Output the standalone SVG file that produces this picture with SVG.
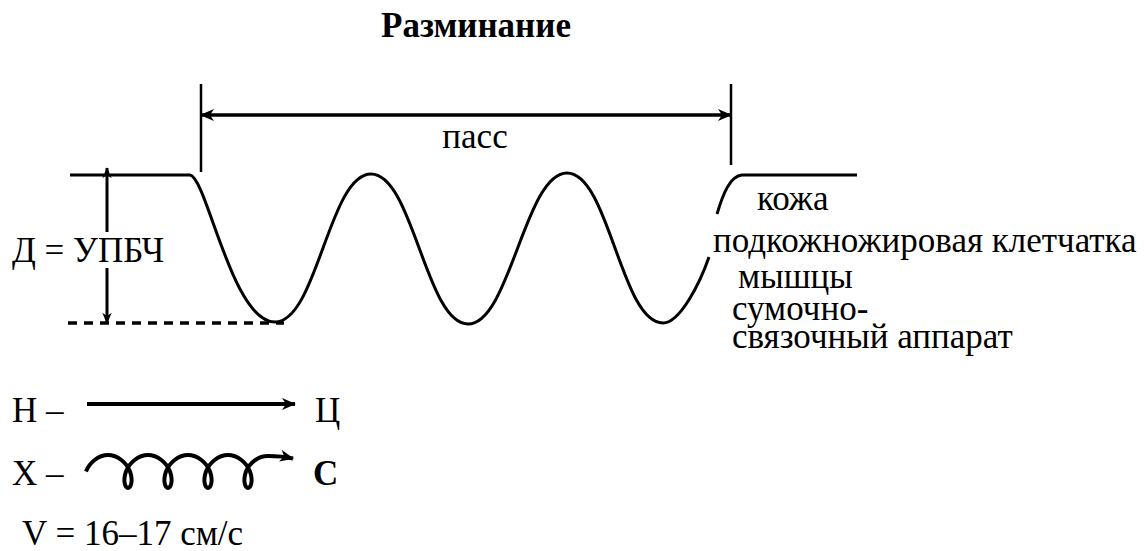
<svg xmlns="http://www.w3.org/2000/svg" width="1144" height="551" viewBox="0 0 1144 551">
  <style>
    .t { font-family: "Liberation Serif", "DejaVu Serif", serif; font-size: 35px; fill: #000; }
    .b { font-weight: bold; }
    .ln { fill: none; stroke: #000; stroke-linecap: butt; }
  </style>
  <defs>
    <marker id="ah" viewBox="0 0 14 12" refX="13" refY="6" markerWidth="14" markerHeight="12" markerUnits="userSpaceOnUse" orient="auto-start-reverse">
      <path d="M0,0 L14,6 L0,12 L4,6 Z" fill="#000"/>
    </marker>
    <marker id="ahs" viewBox="0 0 14 12" refX="13" refY="6" markerWidth="11" markerHeight="10" markerUnits="userSpaceOnUse" orient="auto-start-reverse">
      <path d="M0,0 L14,6 L0,12 L4,6 Z" fill="#000"/>
    </marker>
  </defs>
  <rect width="1144" height="551" fill="#fff"/>

  <g id="title">
    <text class="t b" x="476" y="37" text-anchor="middle">Разминание</text>
  </g>

  <g id="pass">
    <line class="ln" x1="201" y1="84" x2="201" y2="172" stroke-width="2.5"/>
    <line class="ln" x1="731" y1="84" x2="731" y2="165" stroke-width="2.5"/>
    <text class="t" x="475" y="148" text-anchor="middle">пасс</text>
  </g>

  <g id="tissue">
    <path class="ln" stroke-width="3" d="M70,175 L190,175 C207,178 232,322 275,322 C317,322 329,174 371,174 C413,174 426,324 468,324 C510,324 525,173 567,173 C609,173 621,323 663,323 C680,323 700,283 709,257"/>
    <path class="ln" stroke-width="3" d="M717,214 C723,194 730,176 742,175 L857,175"/>
    <path class="ln" stroke-width="3.5" stroke-dasharray="9,7" d="M68,323 L284,323"/>
  </g>

  <g id="depth">
    <text class="t" x="12" y="262">Д = УПБЧ</text>
  </g>

  <g id="layers">
    <text class="t" x="757" y="210">кожа</text>
    <text class="t" x="713" y="252">подкожножировая клетчатка</text>
    <text class="t" x="738" y="288">мышцы</text>
    <text class="t" x="732" y="320">сумочно-</text>
    <text class="t" x="732" y="348">связочный аппарат</text>
  </g>

  <g id="direction">
    <text class="t" x="12" y="422">Н –</text>
    <text class="t" x="315" y="422">Ц</text>
    <text class="t" x="12" y="485">Х –</text>
    <text class="t b" x="313" y="485">С</text>
  </g>

  <g id="speed">
    <text class="t" x="22" y="545">V = 16–17 см/с</text>
  </g>

  <g id="connectors">
    <line class="ln" x1="201" y1="115" x2="731" y2="115" stroke-width="3.5" marker-start="url(#ah)" marker-end="url(#ah)"/>
    <line class="ln" x1="107" y1="232" x2="107" y2="168" stroke-width="3" marker-end="url(#ahs)"/>
    <line class="ln" x1="107" y1="268" x2="107" y2="323" stroke-width="3" marker-end="url(#ahs)"/>
    <line class="ln" x1="87" y1="404" x2="295" y2="404" stroke-width="4" marker-end="url(#ah)"/>
    <path class="ln" stroke-width="4" marker-end="url(#ah)" d="M86,471.5 C89.33,462.86 98.38,455 108,455 C117.62,455 126.67,462.86 130,471.5 C133.33,480.14 130.95,488 128,488 C125.05,488 122.67,480.14 126,471.5 C129.33,462.86 138.38,455 148,455 C157.62,455 166.67,462.86 170,471.5 C173.33,480.14 170.95,488 168,488 C165.05,488 162.67,480.14 166,471.5 C169.33,462.86 178.38,455 188,455 C197.62,455 206.67,462.86 210,471.5 C213.33,480.14 210.95,488 208,488 C205.05,488 202.67,480.14 206,471.5 C209.33,462.86 218.38,455 228,455 C237.62,455 246.67,462.86 250,471.5 C253.33,480.14 250.95,488 248,488 C245.05,488 242.67,480.14 246,471.5 C249.33,462.86 258,456 268,456 Q282,456 293,458.5"/>
  </g>
</svg>
